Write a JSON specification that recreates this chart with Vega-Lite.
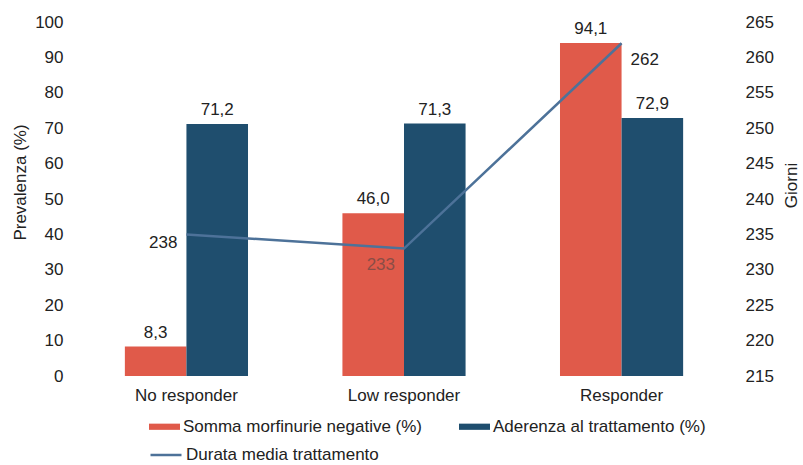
{
  "$schema": "https://vega.github.io/schema/vega-lite/v6.json",
  "width": 654,
  "height": 354,
  "autosize": {"type": "none"},
  "padding": {"left": 77, "top": 22, "right": 72, "bottom": 89},
  "background": "white",
  "config": {
    "font": "Liberation Sans",
    "view": {"stroke": null},
    "axis": {
      "labelFont": "Liberation Sans",
      "labelFontSize": 17,
      "labelColor": "#222",
      "titleFont": "Liberation Sans",
      "titleFontSize": 17,
      "titleColor": "#222",
      "titleFontWeight": "normal",
      "domain": false,
      "ticks": false,
      "grid": false
    },
    "legend": {
      "labelFont": "Liberation Sans",
      "labelFontSize": 17,
      "labelColor": "#222",
      "labelLimit": 400
    }
  },
  "datasets": {
    "bars": [
      {"category": "No responder", "series": "Somma morfinurie negative (%)", "value": 8.3, "label": "8,3"},
      {"category": "No responder", "series": "Aderenza al trattamento (%)", "value": 71.2, "label": "71,2"},
      {"category": "Low responder", "series": "Somma morfinurie negative (%)", "value": 46.0, "label": "46,0"},
      {"category": "Low responder", "series": "Aderenza al trattamento (%)", "value": 71.3, "label": "71,3"},
      {"category": "Responder", "series": "Somma morfinurie negative (%)", "value": 94.1, "label": "94,1"},
      {"category": "Responder", "series": "Aderenza al trattamento (%)", "value": 72.9, "label": "72,9"}
    ],
    "line": [
      {"category": "No responder", "giorni": 235, "label": "238"},
      {"category": "Low responder", "giorni": 233, "label": "233"},
      {"category": "Responder", "giorni": 262, "label": "262"}
    ]
  },
  "layer": [
    {
      "data": {"name": "bars"},
      "encoding": {
        "x": {
          "field": "category",
          "type": "nominal",
          "sort": ["No responder", "Low responder", "Responder"],
          "scale": {"paddingInner": 0.434, "paddingOuter": 0.22},
          "axis": {"title": null, "labelAngle": 0, "labelPadding": 11}
        },
        "xOffset": {
          "field": "series",
          "type": "nominal",
          "sort": ["Somma morfinurie negative (%)", "Aderenza al trattamento (%)"],
          "scale": {"paddingInner": 0, "paddingOuter": 0}
        },
        "y": {
          "field": "value",
          "type": "quantitative",
          "scale": {"domain": [0, 100], "nice": false},
          "axis": {
            "title": "Prevalenza (%)",
            "values": [0, 10, 20, 30, 40, 50, 60, 70, 80, 90, 100],
            "labelPadding": 14,
            "titleX": -57,
            "titleY": 160,
            "titleAngle": 270,
            "titleAlign": "center",
            "titleBaseline": "middle"
          }
        }
      },
      "layer": [
        {
          "mark": {"type": "bar"},
          "encoding": {
            "fill": {
              "field": "series",
              "type": "nominal",
              "scale": {
                "domain": ["Somma morfinurie negative (%)", "Aderenza al trattamento (%)"],
                "range": ["#e05a4a", "#1f4e6e"]
              },
              "legend": {
                "title": null,
                "orient": "none",
                "legendX": 72,
                "legendY": 389,
                "direction": "horizontal",
                "symbolType": "M-1,-0.2H1V0.2H-1Z",
                "symbolSize": 961,
                "symbolStrokeWidth": 0,
                "labelOffset": 3,
                "columnPadding": 36,
                "padding": 0
              }
            }
          }
        },
        {
          "mark": {"type": "text", "baseline": "middle", "dy": -14, "fontSize": 17, "color": "#222"},
          "encoding": {"text": {"field": "label"}}
        }
      ]
    },
    {
      "data": {"name": "line"},
      "encoding": {
        "x": {
          "field": "category",
          "type": "nominal",
          "sort": ["No responder", "Low responder", "Responder"],
          "scale": {"paddingInner": 0.434, "paddingOuter": 0.22},
          "axis": {"title": null, "labelAngle": 0, "labelPadding": 11}
        },
        "y": {
          "field": "giorni",
          "type": "quantitative",
          "scale": {"domain": [215, 265], "nice": false},
          "axis": {
            "orient": "right",
            "title": "Giorni",
            "values": [215, 220, 225, 230, 235, 240, 245, 250, 255, 260, 265],
            "labelPadding": 14,
            "titleX": 60,
            "titleY": 163,
            "titleAngle": 270,
            "titleAlign": "center",
            "titleBaseline": "middle"
          }
        }
      },
      "layer": [
        {
          "mark": {"type": "line", "strokeWidth": 2.5},
          "encoding": {
            "stroke": {
              "datum": "Durata media trattamento",
              "type": "nominal",
              "scale": {"range": ["#4d7299"]},
              "legend": {
                "title": null,
                "orient": "none",
                "legendX": 72,
                "legendY": 416,
                "symbolType": "M-1,0H1",
                "symbolSize": 961,
                "symbolStrokeWidth": 2.5,
                "labelOffset": 3,
                "padding": 0
              }
            }
          }
        },
        {
          "transform": [{"filter": "datum.category === 'No responder'"}],
          "mark": {"type": "text", "align": "right", "baseline": "middle", "dx": -9, "dy": 9, "fontSize": 17, "color": "#222"},
          "encoding": {"text": {"field": "label"}}
        },
        {
          "transform": [{"filter": "datum.category === 'Low responder'"}],
          "mark": {"type": "text", "align": "right", "baseline": "middle", "dx": -9, "dy": 16, "fontSize": 17, "color": "#444", "opacity": 0.55},
          "encoding": {"text": {"field": "label"}}
        },
        {
          "transform": [{"filter": "datum.category === 'Responder'"}],
          "mark": {"type": "text", "align": "left", "baseline": "middle", "dx": 9, "dy": 17, "fontSize": 17, "color": "#222"},
          "encoding": {"text": {"field": "label"}}
        }
      ]
    }
  ],
  "resolve": {"scale": {"y": "independent"}}
}
